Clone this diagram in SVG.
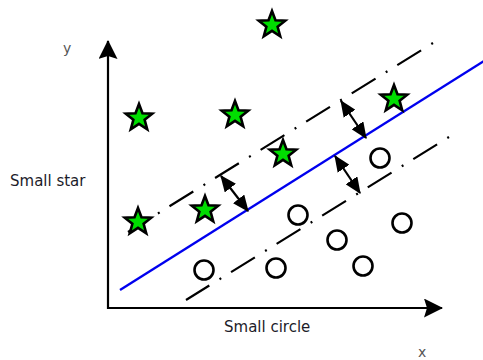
<svg xmlns="http://www.w3.org/2000/svg" width="483" height="360" viewBox="0 0 483 360">
<style>
.lbl{font-family:"DejaVu Sans",sans-serif;font-size:15px;fill:#1c1c2a}
.ax{font-family:"DejaVu Sans",sans-serif;font-size:14px;fill:#555}
.axis{stroke:#000;stroke-width:2.2;fill:none}
.dd{stroke:#000;stroke-width:2.2;fill:none;stroke-dasharray:2 12 28 11.6}
.sep{stroke:#0000ee;stroke-width:2.4;fill:none}
.dbl{stroke:#000;stroke-width:2.2;fill:none;marker-start:url(#ah);marker-end:url(#ah)}
.star{fill:#00dd00;stroke:#000;stroke-width:2.6;stroke-linejoin:miter}
.circ{fill:#fff;stroke:#000;stroke-width:2.6}
</style>
<defs>
<marker id="ah" viewBox="0 0 14 12" refX="13" refY="6" markerWidth="7.5" markerHeight="6.5" orient="auto-start-reverse">
<path d="M0,0 L14,6 L0,12 z" fill="#000"/>
</marker>
<marker id="axh" viewBox="0 0 19 19" refX="18" refY="9.5" markerWidth="19" markerHeight="19" markerUnits="userSpaceOnUse" orient="auto">
<path d="M0,0 L19,9.5 L0,19 L3,9.5 z" fill="#000"/>
</marker>
<polygon id="st" points="0,-14 3.48,-4.79 13.31,-4.33 5.63,1.83 8.23,11.33 0,5.92 -8.23,11.33 -5.63,1.83 -13.31,-4.33 -3.48,-4.79"/>
</defs>
<rect width="483" height="360" fill="#fff"/>
<g id="axes">
<line class="axis" x1="108" y1="309" x2="108" y2="41" marker-end="url(#axh)"/>
<line class="axis" x1="107" y1="308" x2="442" y2="308" marker-end="url(#axh)"/>
</g>
<g id="connectors">
<path class="dd" d="M433,43 L128,232"/>
<path class="dd" d="M449,137 L186,300"/>
<path class="sep" d="M120,290 L484,61"/>
<line class="dbl" x1="221" y1="176" x2="248" y2="211"/>
<line class="dbl" x1="341" y1="101" x2="366" y2="138"/>
<line class="dbl" x1="335" y1="156" x2="360" y2="193"/>
</g>
<g id="stars">
<use href="#st" class="star" x="272" y="25"/>
<use href="#st" class="star" x="139" y="118"/>
<use href="#st" class="star" x="235" y="115"/>
<use href="#st" class="star" x="394" y="99"/>
<use href="#st" class="star" x="283" y="154"/>
<use href="#st" class="star" x="138" y="222"/>
<use href="#st" class="star" x="205" y="210"/>
</g>
<g id="circles">
<circle class="circ" cx="204" cy="270" r="9.5"/>
<circle class="circ" cx="276" cy="268" r="9.5"/>
<circle class="circ" cx="298" cy="215" r="9.5"/>
<circle class="circ" cx="337" cy="240" r="9.5"/>
<circle class="circ" cx="363" cy="266" r="9.5"/>
<circle class="circ" cx="402" cy="223" r="9.5"/>
<circle class="circ" cx="380" cy="158" r="9.5"/>
</g>
<g id="labels">
<text class="ax" x="63" y="53">y</text>
<text class="ax" x="418" y="357">x</text>
<text class="lbl" x="10" y="186">Small star</text>
<text class="lbl" x="224" y="332">Small circle</text>
</g>
</svg>
